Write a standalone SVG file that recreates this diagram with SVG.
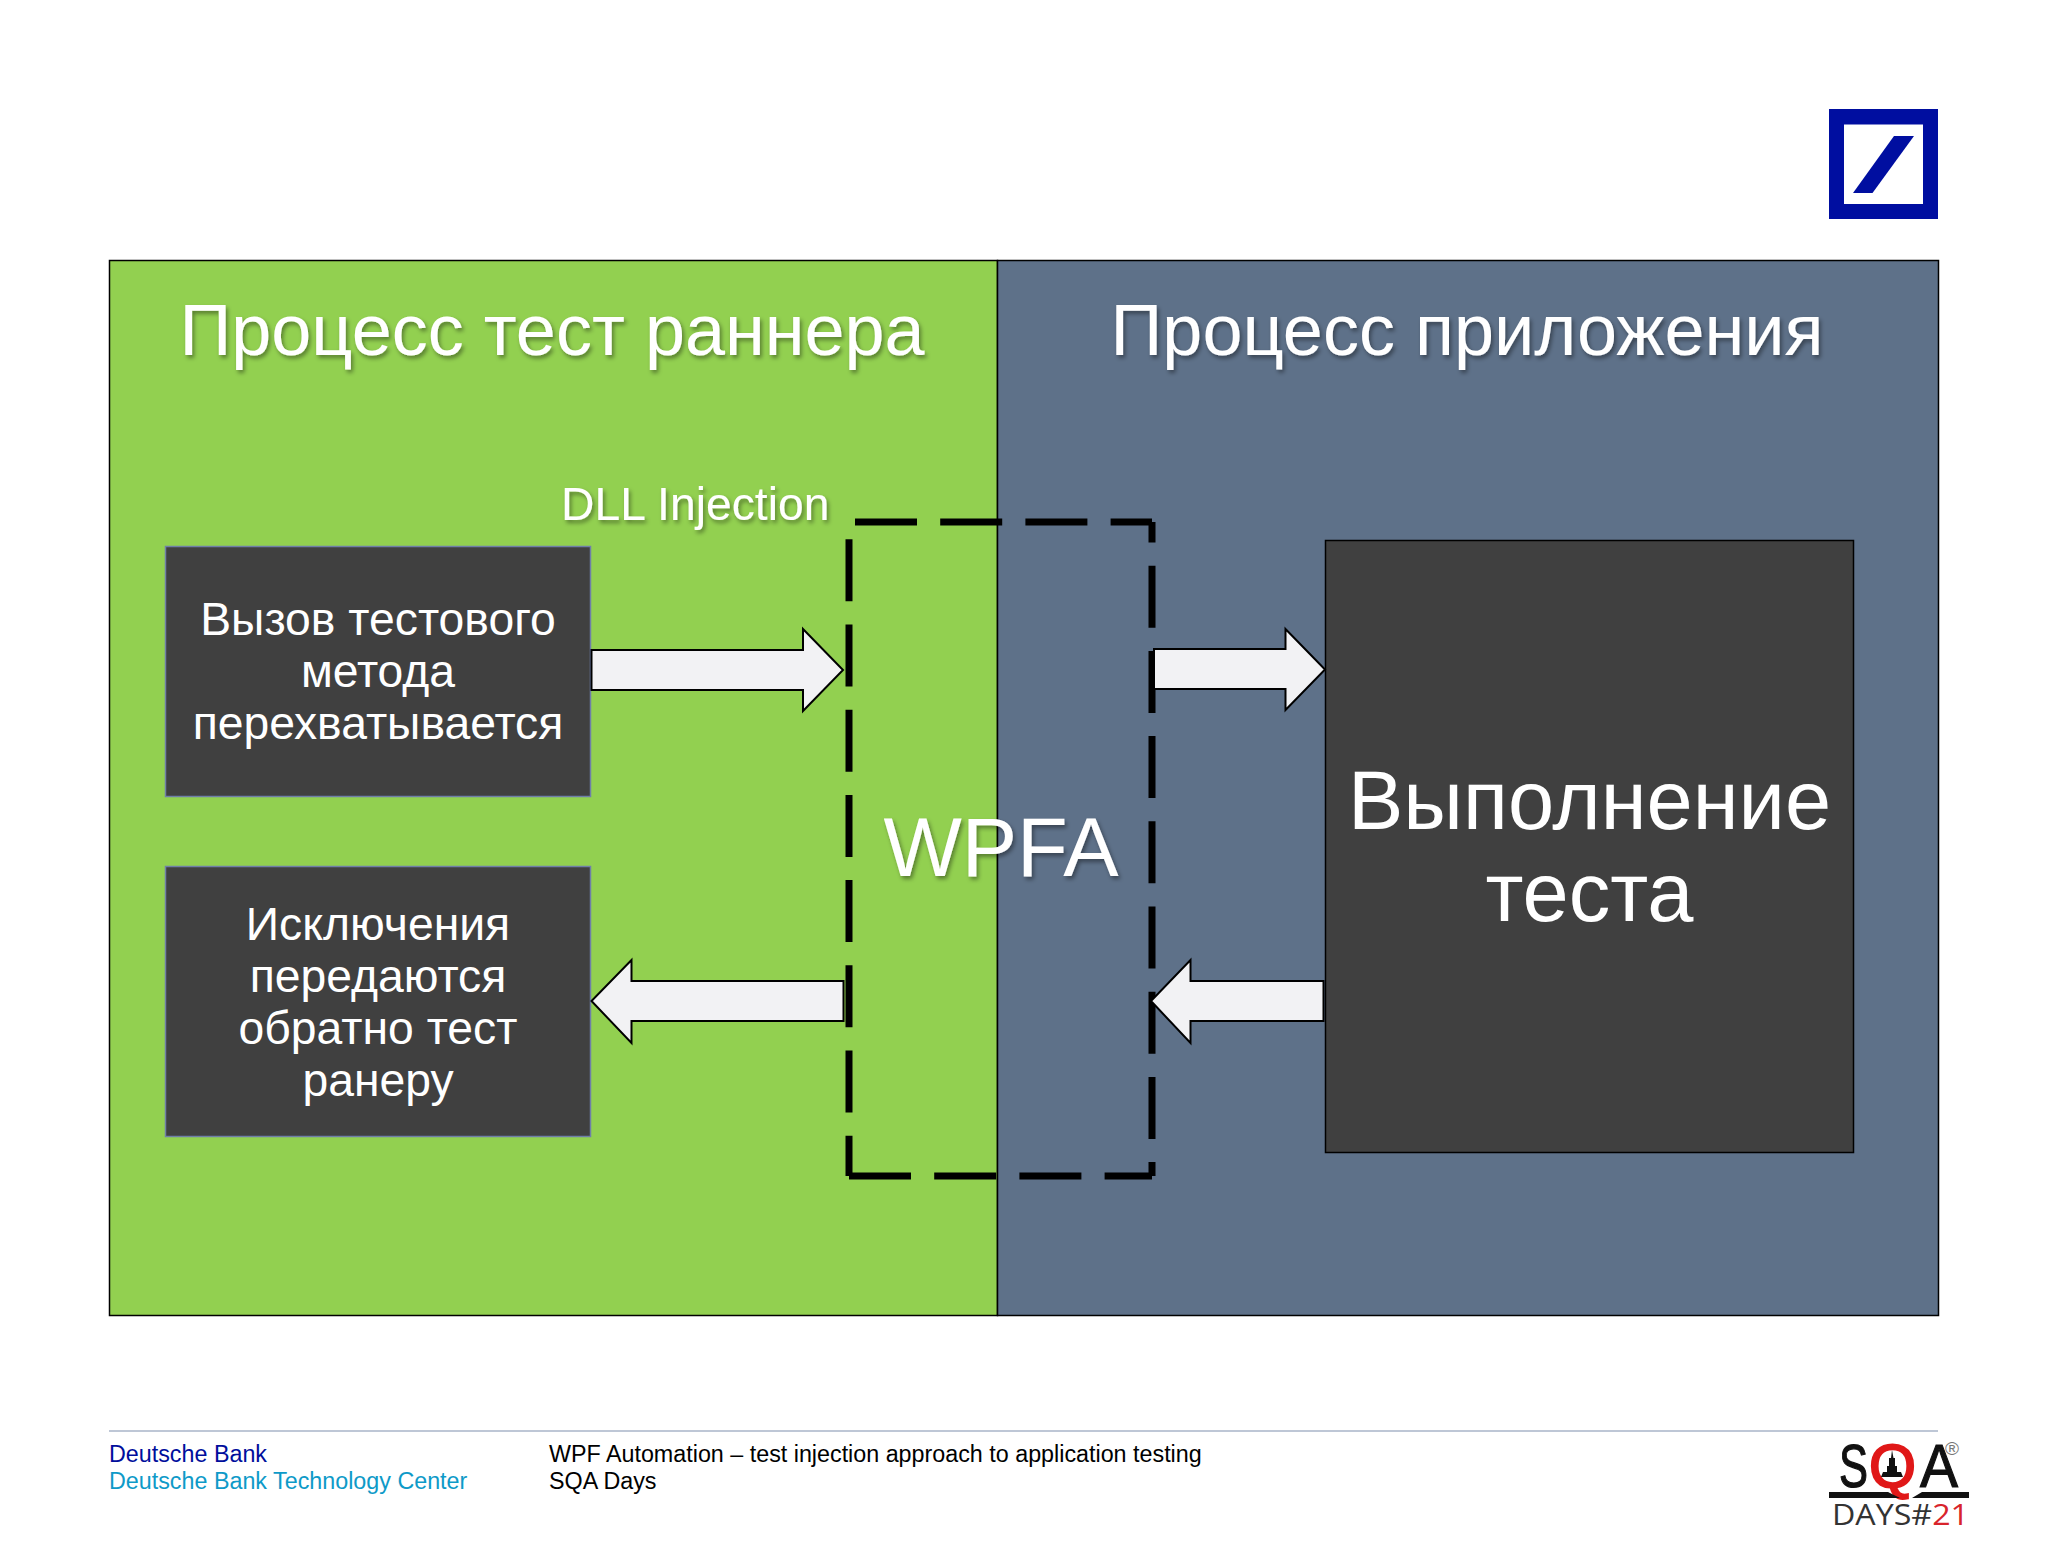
<svg xmlns="http://www.w3.org/2000/svg" width="2048" height="1541" viewBox="0 0 2048 1541">
<style>
text{font-family:"Liberation Sans",Arial,sans-serif}
.title{font-size:72px;fill:#fff;text-anchor:middle;filter:url(#sh)}
.box{fill:#404040;stroke:#6f7fa8;stroke-width:1.5}
.boxk{fill:#404040;stroke:#000;stroke-width:1.5}
.bt{font-size:46.300px;fill:#fff;text-anchor:middle}
.big{font-size:83px;fill:#fff;text-anchor:middle}
.arrow{fill:#f2f2f4;stroke:#000;stroke-width:2}
.dash{fill:none;stroke:#000;stroke-width:7;stroke-dasharray:62 23.2}
.foot{font-size:23.300px;fill:#000}
.sqa{font-size:61px;fill:#111;stroke:#111;stroke-width:1.2}
</style>
<defs>
<filter id="sh" x="-5%" y="-20%" width="110%" height="140%"><feDropShadow dx="2" dy="3" stdDeviation="2" flood-color="#000" flood-opacity=".4"/></filter>
</defs>
<rect width="2048" height="1541" fill="#fff"/>
<g id="db-logo">
<path fill="#000ea0" fill-rule="evenodd" d="M1829 109H1938V219H1829ZM1844 124.500V204H1923V124.500Z"/>
<path fill="#000ea0" d="M1894 136H1914L1872.500 193H1853Z"/>
</g>
<g id="panel-runner"><rect x="109.500" y="260.500" width="888" height="1055" fill="#92d050" stroke="#000" stroke-width="1.500"/></g>
<g id="panel-app"><rect x="997.500" y="260.500" width="941" height="1055" fill="#5e7189" stroke="#000" stroke-width="1.500"/></g>
<text class="title" x="552" y="355">Процесс тест раннера</text>
<text class="title" x="1467" y="355">Процесс приложения</text>
<text x="561" y="520" font-size="46.300" fill="#fff" filter="url(#sh)">DLL Injection</text>
<g id="wpfa">
<g id="wpfa-border">
<path class="dash" d="M855 522H1152" />
<path class="dash" d="M1152 522V1176" stroke-dashoffset="41.500"/>
<path class="dash" d="M849 1176H1152"/>
<path class="dash" d="M849 539.300V1176"/>
</g>
<text class="big" x="1001" y="876" filter="url(#sh)">WPFA</text>
</g>
<g id="node-call">
<rect class="box" x="165.500" y="546.500" width="425" height="250"/>
<text class="bt" x="378" y="635">Вызов тестового</text>
<text class="bt" x="378" y="687">метода</text>
<text class="bt" x="378" y="739">перехватывается</text>
</g>
<g id="node-exc">
<rect class="box" x="165.500" y="866.500" width="425" height="270"/>
<text class="bt" x="378" y="940">Исключения</text>
<text class="bt" x="378" y="992">передаются</text>
<text class="bt" x="378" y="1044">обратно тест</text>
<text class="bt" x="378" y="1096">ранеру</text>
</g>
<g id="node-exec">
<rect class="boxk" x="1325.500" y="540.500" width="528" height="612"/>
<text class="big" x="1589.500" y="829">Выполнение</text>
<text class="big" x="1589.500" y="921">теста</text>
</g>
<g id="connectors">
<path class="arrow" d="M591.500 650H803V629L843 670L803 711V690H591.500Z"/>
<path class="arrow" d="M1154 649H1285.500V629L1325 669.500L1285.500 710V689H1154Z"/>
<path class="arrow" d="M843.500 981H631.500V960L591.500 1001L631.500 1043V1021H843.500Z"/>
<path class="arrow" d="M1323.500 981H1190.500V960L1151 1001L1190.500 1043V1021H1323.500Z"/>
</g>
<g id="footer">
<path d="M109 1431H1938" stroke="#a8b4c8" stroke-width="1.500"/>
<text class="foot" x="109" y="1462" style="fill:#000e9c">Deutsche Bank</text>
<text class="foot" x="109" y="1489" style="fill:#0e9ac8">Deutsche Bank Technology Center</text>
<text class="foot" x="549" y="1462">WPF Automation – test injection approach to application testing</text>
<text class="foot" x="549" y="1489">SQA Days</text>
</g>
<g id="sqa-logo">
<text class="sqa" x="1839" y="1487" textLength="29" lengthAdjust="spacingAndGlyphs">S</text>
<text class="sqa" x="1869" y="1487" textLength="47" lengthAdjust="spacingAndGlyphs" style="fill:#e01818;stroke:#e01818;stroke-width:2">Q</text>
<text class="sqa" x="1920" y="1487" textLength="38" lengthAdjust="spacingAndGlyphs">A</text>
<path fill="#111" d="M1881 1477L1883 1472H1887V1466H1889V1458H1891L1892 1450L1893.500 1458H1895V1466H1897V1472H1901L1903 1477Z"/>
<path fill="#111" d="M1829 1492H1888L1900 1498H1829ZM1912 1498L1922 1492H1969V1498Z"/>
<text x="1832" y="1525" font-size="30" style="font-family:'Open Sans',sans-serif" fill="#333" textLength="137" lengthAdjust="spacingAndGlyphs">DAYS#<tspan fill="#d8242c">21</tspan></text>
<text x="1945" y="1455" font-size="19" fill="#777">®</text>
</g>
</svg>
